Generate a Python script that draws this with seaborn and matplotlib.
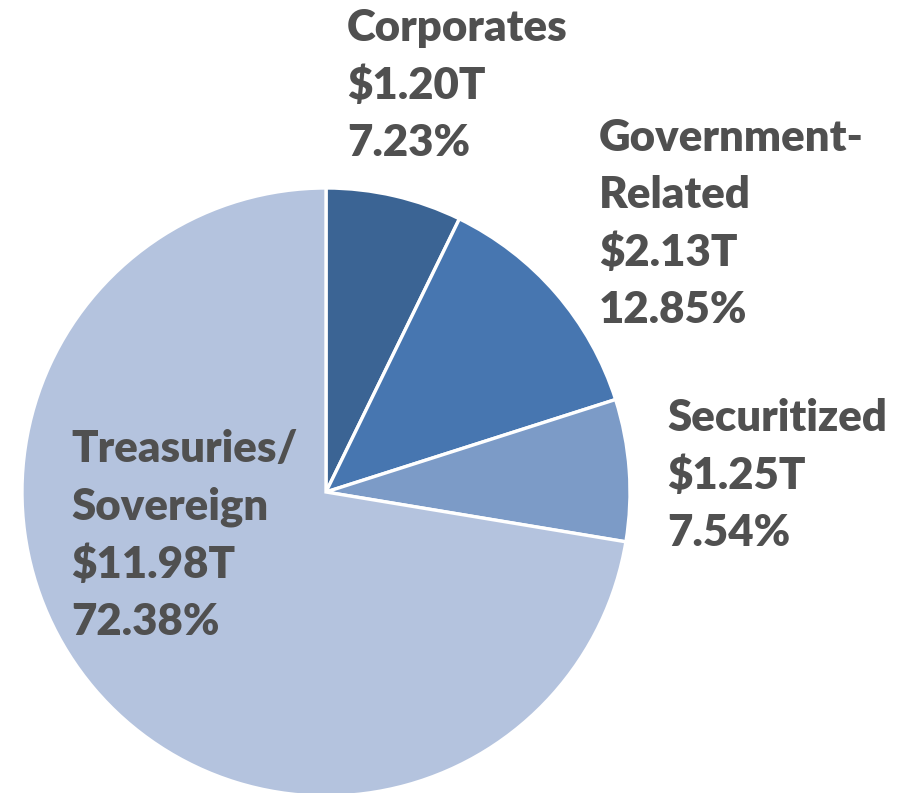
import matplotlib
matplotlib.use("Agg")
import matplotlib.pyplot as plt
import seaborn as sns

# Market value breakdown
categories = ["Corporates", "Government-\nRelated", "Securitized", "Treasuries/\nSovereign"]
amounts = ["$1.20T", "$2.13T", "$1.25T", "$11.98T"]
shares = [7.23, 12.85, 7.54, 72.38]
colors = ["#3B6494", "#4776B0", "#7C9BC7", "#B4C3DE"]

sns.set_theme(style="white")
plt.rcParams["font.family"] = ["Lato", "DejaVu Sans"]

fig = plt.figure(figsize=(9.04, 7.93), dpi=100)
W, H = 904, 793
cx, cy, r = 326, 492, 304
ax = fig.add_axes([(cx - r) / W, (H - cy - r) / H, 2 * r / W, 2 * r / H])
ax.pie(shares, colors=colors, startangle=90, counterclock=False, radius=1,
       wedgeprops=dict(edgecolor="white", linewidth=2.4))
ax.set_xlim(-1, 1)
ax.set_ylim(-1, 1)
ax.set_aspect("equal")
ax.axis("off")

# label anchors (top-left, pixels)
label_pos = [(347, 8), (599, 118), (667, 398), (71, 429)]
for (px, py), cat, amt, pct in zip(label_pos, categories, amounts, shares):
    fig.text(px / W, 1 - py / H, f"{cat}\n{amt}\n{pct:.2f}%",
             ha="left", va="top", fontsize=31.5, fontweight="heavy",
             color="#505050", linespacing=1.52)

fig.savefig("out.png", dpi=100)
